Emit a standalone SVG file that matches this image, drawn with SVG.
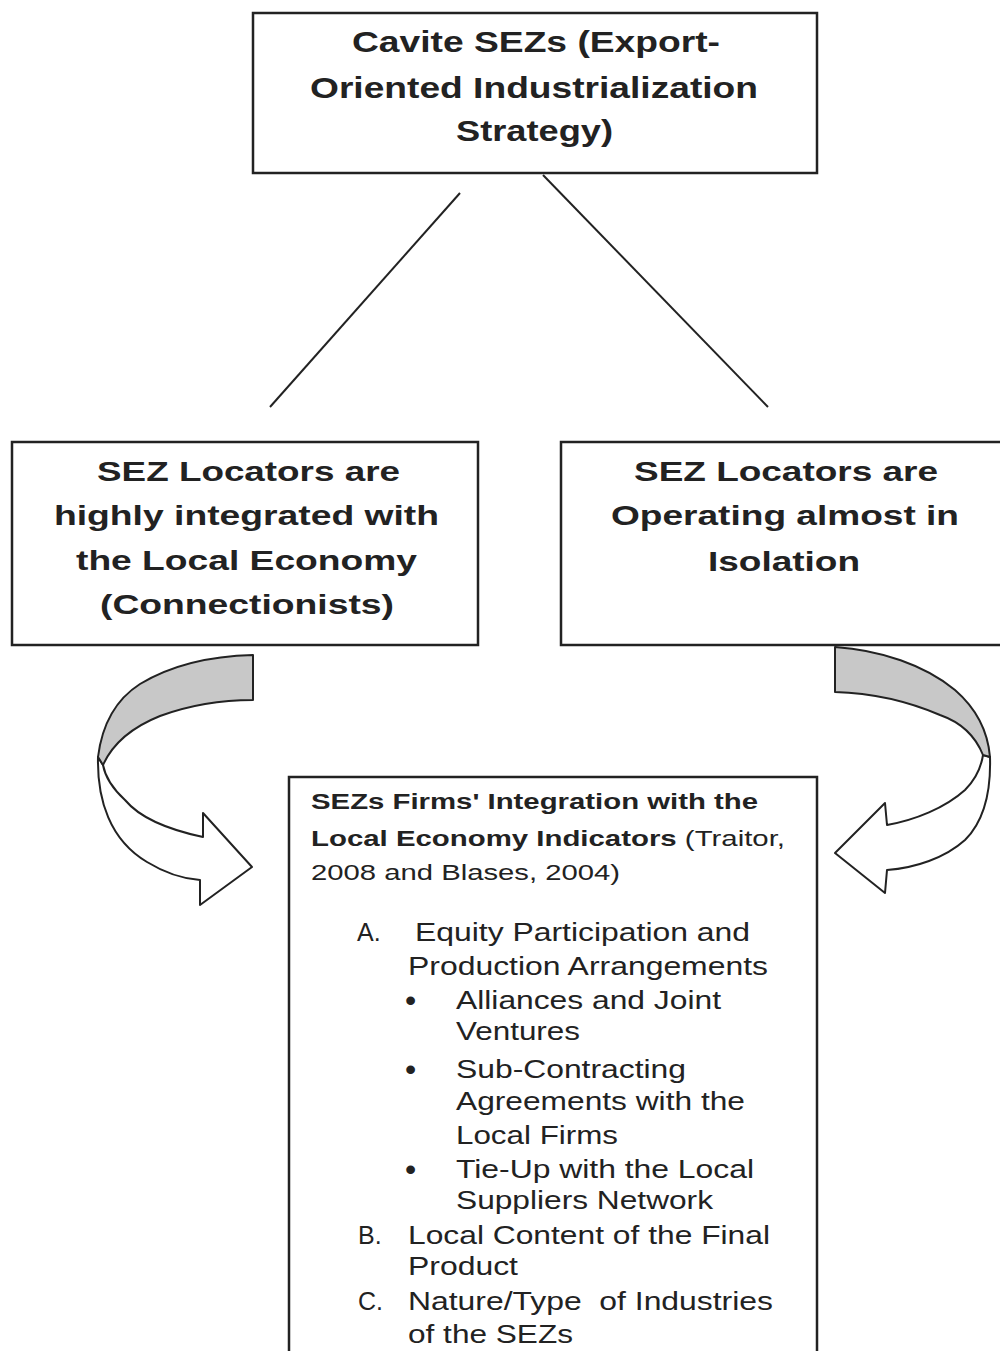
<svg xmlns="http://www.w3.org/2000/svg" width="1000" height="1351" viewBox="0 0 1000 1351">
<style>
.box{fill:#fff;stroke:#222;stroke-width:2.5}
.t{font-family:"Liberation Sans",Arial,sans-serif;fill:#222}
.h{font-size:30px;font-weight:bold}
.m{font-size:28px;font-weight:bold}
.hb{font-size:22px;font-weight:bold}
.hr{font-size:22px;font-weight:normal}
.l{font-size:25px}
.bul{font-size:32px}
.conn{stroke:#222;stroke-width:2;fill:none}
.gray{fill:#c8c8c8;stroke:#222;stroke-width:2;stroke-linejoin:round}
.white{fill:#fff;stroke:#222;stroke-width:2;stroke-linejoin:round}
</style>
<rect width="1000" height="1351" fill="#fff"/>
<g id="connectors">
<line class="conn" x1="460" y1="193" x2="270" y2="407"/>
<line class="conn" x1="543" y1="175" x2="768" y2="407"/>
<g id="curved-arrow-left">
<path class="white" d="M98,757 C97,800 110,840 147,862 C165,873 185,879 200,880 L200,905 L252,867 L203,813 L203,837 C170,830 140,818 125,800 C112,788 105,776 103,765 Z"/>
<path class="gray" d="M253,655 C210,656 170,666 140,684 C115,700 102,725 98,757 L103,765 C112,745 130,728 160,716 C190,705 220,700 253,700 Z"/>
</g>
<g id="curved-arrow-right">
<path class="white" d="M990,757 C991,790 985,820 965,840 C945,858 915,868 887,870 L885,893 L835,853 L885,803 L887,825 C915,820 945,808 965,790 C975,780 981,768 983,755 Z"/>
<path class="gray" d="M835,647 C880,650 925,665 955,690 C978,710 988,733 990,757 L983,755 C975,735 960,722 940,715 C905,700 870,693 835,692 Z"/>
</g>
</g>
<g id="node-top">
<rect class="box" x="253" y="13" width="564" height="160"/>
<text class="t h" x="352" y="52" textLength="368" lengthAdjust="spacingAndGlyphs">Cavite SEZs (Export-</text>
<text class="t h" x="310" y="98" textLength="448" lengthAdjust="spacingAndGlyphs">Oriented Industrialization</text>
<text class="t h" x="456" y="141" textLength="157" lengthAdjust="spacingAndGlyphs">Strategy)</text>
</g>
<g id="node-left">
<rect class="box" x="12" y="442" width="466" height="203"/>
<text class="t m" x="97" y="481" textLength="303" lengthAdjust="spacingAndGlyphs">SEZ Locators are</text>
<text class="t m" x="54" y="525" textLength="385" lengthAdjust="spacingAndGlyphs">highly integrated with</text>
<text class="t m" x="76" y="570" textLength="341" lengthAdjust="spacingAndGlyphs">the Local Economy</text>
<text class="t m" x="100" y="614" textLength="294" lengthAdjust="spacingAndGlyphs">(Connectionists)</text>
</g>
<g id="node-right">
<rect class="box" x="561" y="442" width="460" height="203"/>
<text class="t m" x="634" y="481" textLength="304" lengthAdjust="spacingAndGlyphs">SEZ Locators are</text>
<text class="t m" x="611" y="525" textLength="348" lengthAdjust="spacingAndGlyphs">Operating almost in</text>
<text class="t m" x="708" y="571" textLength="152" lengthAdjust="spacingAndGlyphs">Isolation</text>
</g>
<g id="node-bottom">
<rect class="box" x="289" y="777" width="528" height="600"/>
<text class="t hb" x="311" y="809" textLength="447" lengthAdjust="spacingAndGlyphs">SEZs Firms' Integration with the</text>
<text class="t hb" x="311" y="846" textLength="474" lengthAdjust="spacingAndGlyphs">Local Economy Indicators<tspan class="hr"> (Traitor,</tspan></text>
<text class="t hr" x="311" y="880" textLength="309" lengthAdjust="spacingAndGlyphs">2008 and Blases, 2004)</text>
<text class="t l" x="357" y="941">A.</text>
<text class="t l" x="415" y="941" textLength="335" lengthAdjust="spacingAndGlyphs">Equity Participation and</text>
<text class="t l" x="408" y="975" textLength="360" lengthAdjust="spacingAndGlyphs">Production Arrangements</text>
<text class="t bul" x="405" y="1011">•</text>
<text class="t l" x="456" y="1009" textLength="265" lengthAdjust="spacingAndGlyphs">Alliances and Joint</text>
<text class="t l" x="456" y="1040" textLength="124" lengthAdjust="spacingAndGlyphs">Ventures</text>
<text class="t bul" x="405" y="1080">•</text>
<text class="t l" x="456" y="1078" textLength="230" lengthAdjust="spacingAndGlyphs">Sub-Contracting</text>
<text class="t l" x="456" y="1110" textLength="289" lengthAdjust="spacingAndGlyphs">Agreements with the</text>
<text class="t l" x="456" y="1144" textLength="162" lengthAdjust="spacingAndGlyphs">Local Firms</text>
<text class="t bul" x="405" y="1180">•</text>
<text class="t l" x="456" y="1178" textLength="298" lengthAdjust="spacingAndGlyphs">Tie-Up with the Local</text>
<text class="t l" x="456" y="1209" textLength="257" lengthAdjust="spacingAndGlyphs">Suppliers Network</text>
<text class="t l" x="358" y="1244">B.</text>
<text class="t l" x="408" y="1244" textLength="362" lengthAdjust="spacingAndGlyphs">Local Content of the Final</text>
<text class="t l" x="408" y="1275" textLength="110" lengthAdjust="spacingAndGlyphs">Product</text>
<text class="t l" x="358" y="1310">C.</text>
<text class="t l" x="408" y="1310" textLength="365" lengthAdjust="spacingAndGlyphs" xml:space="preserve">Nature/Type  of Industries</text>
<text class="t l" x="408" y="1343" textLength="165" lengthAdjust="spacingAndGlyphs">of the SEZs</text>
</g>
</svg>
